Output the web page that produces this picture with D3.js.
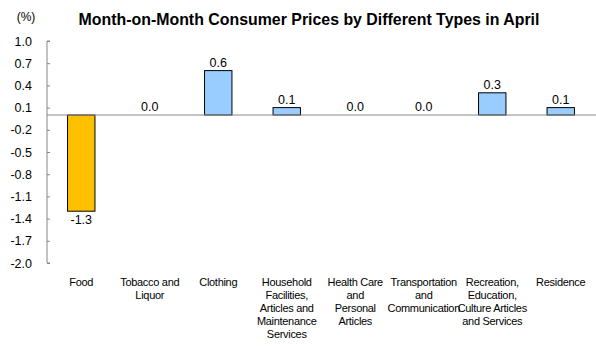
<!DOCTYPE html>
<html>
<head>
<meta charset="utf-8">
<script src="https://cdn.jsdelivr.net/npm/d3@7"></script>
<style>
  html, body { margin: 0; padding: 0; background: #fff; }
  text { font-family: "Liberation Sans", Arial, sans-serif; }
</style>
</head>
<body>
<svg id="chart" width="596" height="346"></svg>
<script>
// Category labels (each entry is a list of wrapped lines)
const categories = [
  ["Food"],
  ["Tobacco and", "Liquor"],
  ["Clothing"],
  ["Household", "Facilities,", "Articles and", "Maintenance", "Services"],
  ["Health Care", "and", "Personal", "Articles"],
  ["Transportation", "and", "Communication"],
  ["Recreation,", "Education,", "Culture Articles", "and Services"],
  ["Residence"]
];
const values = [-1.3, 0.0, 0.6, 0.1, 0.0, 0.0, 0.3, 0.1];
const yTicks = [1.0, 0.7, 0.4, 0.1, -0.2, -0.5, -0.8, -1.1, -1.4, -1.7, -2.0];

const svg = d3.select("#chart");
const plotLeft = 47, plotRight = 595, plotTop = 41, plotBottom = 263;

const x = d3.scaleBand()
  .domain(d3.range(values.length))
  .range([plotLeft, plotRight])
  .paddingInner(0.6)
  .paddingOuter(0.3);

const y = d3.scaleLinear().domain([-2.0, 1.0]).range([plotBottom, plotTop]);

// Title and unit
svg.append("text")
  .attr("x", 309).attr("y", 25)
  .attr("text-anchor", "middle")
  .style("font-size", "15.9px").style("font-weight", "bold")
  .text("Month-on-Month Consumer Prices by Different Types in April");
svg.append("text")
  .attr("x", 26).attr("y", 21)
  .attr("text-anchor", "middle")
  .style("font-size", "12px")
  .text("(%)");

// Y axis with inward ticks
const yAxis = svg.append("g")
  .attr("transform", `translate(${plotLeft},0)`)
  .call(d3.axisRight(y).tickValues(yTicks).tickSize(3).tickFormat(""));
yAxis.select(".domain").attr("stroke", "#888").attr("d", `M3,${plotTop}H0V${plotBottom}H3`);
yAxis.selectAll(".tick line").attr("stroke", "#888");

svg.append("g").selectAll("text")
  .data(yTicks)
  .join("text")
  .attr("x", 32).attr("y", d => y(d) + 4.5)
  .attr("text-anchor", "end")
  .style("font-size", "12.5px")
  .text(d => d.toFixed(1));

// Bars
svg.append("g").selectAll("rect")
  .data(values)
  .join("rect")
  .attr("x", (d, i) => x(i))
  .attr("width", x.bandwidth())
  .attr("y", d => y(Math.max(0, d)))
  .attr("height", d => Math.abs(y(d) - y(0)))
  .attr("fill", d => d < 0 ? "#FFC000" : "#99CCFF")
  .attr("stroke", "#000")
  .attr("stroke-width", 1)
  .style("display", d => d === 0 ? "none" : null);

// Zero line
svg.append("line")
  .attr("x1", plotLeft).attr("x2", 596)
  .attr("y1", y(0)).attr("y2", y(0))
  .attr("stroke", "#888");

// Value labels
svg.append("g").selectAll("text")
  .data(values)
  .join("text")
  .attr("x", (d, i) => x(i) + x.bandwidth() / 2)
  .attr("y", d => d < 0 ? y(d) + 13 : y(d) - 4)
  .attr("text-anchor", "middle")
  .style("font-size", "12.5px")
  .text(d => d.toFixed(1));

// Category labels
const cat = svg.append("g").selectAll("text")
  .data(categories)
  .join("text")
  .attr("x", (d, i) => x(i) + x.bandwidth() / 2)
  .attr("y", 286)
  .attr("text-anchor", "middle")
  .style("font-size", "11px")
  .style("letter-spacing", "-0.3px");
cat.selectAll("tspan")
  .data(d => d)
  .join("tspan")
  .attr("x", function() { return d3.select(this.parentNode).attr("x"); })
  .attr("dy", (d, i) => i === 0 ? 0 : 13)
  .text(d => d);
</script>
</body>
</html>
